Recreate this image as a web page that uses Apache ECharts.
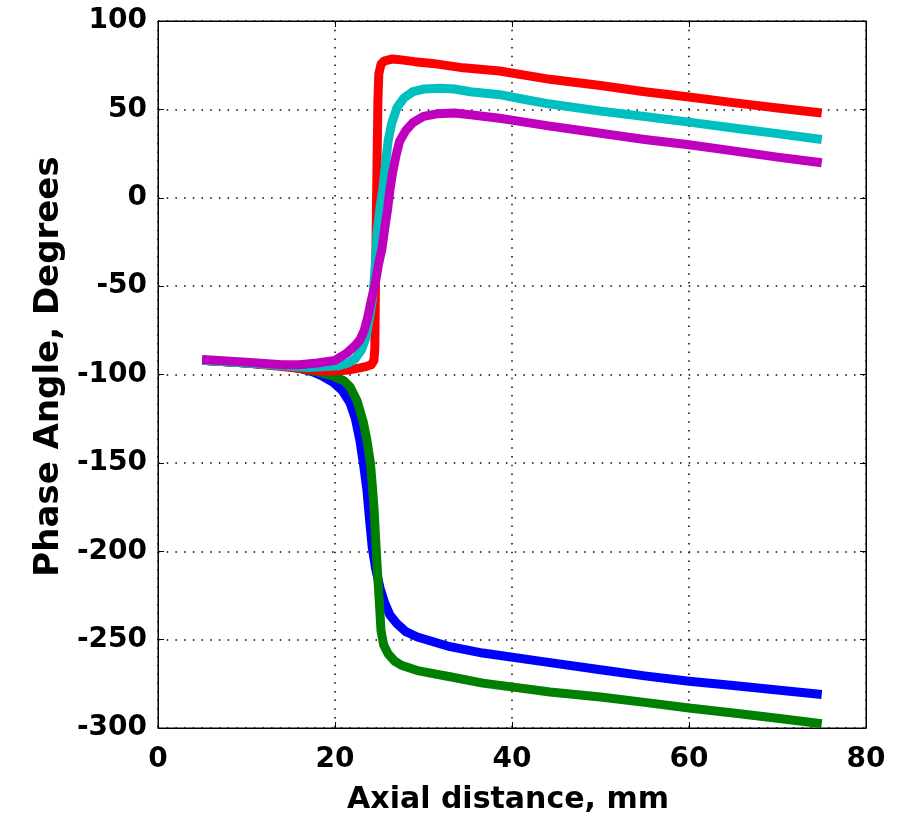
<!DOCTYPE html>
<html lang="en">
<head>
    <meta charset="UTF-8">
    <title>Phase Angle vs Axial distance</title>
    <script src="https://cdn.jsdelivr.net/npm/echarts@6/dist/echarts.min.js"></script>
    <style>
        html, body { margin: 0; padding: 0; background: #fff; }
    </style>
</head>
<body>
    <div id="phaseChart" style="width: 903px; height: 825px;"></div>
    <script>
        // x ticks / y ticks
        var xTicks = [0, 20, 40, 60, 80];
        var yTicks = [-300, -250, -200, -150, -100, -50, 0, 50, 100];

        // red curve
        var redX = [5, 10, 14, 17, 18.6, 20, 21.5, 22.5, 23.5, 24.1, 24.4, 24.5, 24.55, 24.65, 24.75, 24.85, 24.95, 25.2, 25.6, 26.5, 27.5, 29, 31, 34.5, 36.7, 38.6, 44.3, 50, 55, 60, 65, 70, 75];
        var redY = [-92, -93.5, -95.5, -97, -98, -98, -97.5, -96.5, -95.5, -94.5, -92, -85, -60, -20, 20, 55, 70, 75.5, 77.5, 78.5, 78, 77, 76, 73.5, 72.5, 71.7, 67, 63.5, 60, 57, 53.8, 50.8, 48];

        // cyan curve
        var cyanX = [5, 10, 14, 17, 19, 20.5, 21.5, 22.3, 23, 23.5, 23.9, 24.3, 24.6, 24.75, 25.1, 25.4, 25.6, 25.8, 26, 26.4, 27, 27.8, 28.8, 30, 31.9, 33.5, 35.3, 38.6, 41, 44.3, 50, 55, 60, 65, 70, 75];
        var cyanY = [-92, -93.5, -95, -96, -95.5, -95, -93.5, -91, -86, -79, -68, -55, -35, -20, -5, 5, 14, 23, 32, 42, 51, 56.5, 60, 61.5, 62, 61.5, 60, 58.3, 56, 53, 49, 46, 42.8, 39.5, 36.3, 33];

        // magenta curve
        var magentaX = [5, 10, 14, 16, 18, 20, 21.3, 22.2, 22.8, 23.3, 23.7, 24.1, 24.5, 24.9, 25.3, 25.6, 25.9, 26.2, 26.5, 26.9, 27.3, 28, 28.8, 30, 31.5, 33.5, 35.3, 38.6, 40.5, 44.3, 50, 55, 60, 65, 70, 75];
        var magentaY = [-91.5, -93, -94.5, -94.5, -93.5, -92, -88, -84, -80.5, -75, -67.5, -58, -50, -38, -29, -18, -8, 4, 14, 24, 32, 38, 42.5, 46, 47.5, 48, 47, 45, 43.5, 40.5, 36.5, 33, 30, 26.5, 23, 19.8];

        // blue curve
        var blueX = [5, 10, 14, 16, 17.5, 18.6, 19.8, 20.8, 21.7, 22.3, 22.8, 23.2, 23.6, 23.9, 24.2, 24.6, 25.1, 25.6, 26.2, 27, 28, 29.3, 33, 36.7, 44.3, 50, 55, 60, 65, 70, 75];
        var blueY = [-92, -93.5, -95, -96.5, -98.5, -101, -104.5, -109, -116, -125, -137, -150, -165, -182, -197.6, -210, -221, -229, -236, -241, -245.5, -248.5, -254, -257.6, -263, -267, -270.5, -273.5, -276, -278.5, -281];

        // green curve
        var greenX = [5, 10, 14, 16, 18, 19.8, 21, 21.7, 22.5, 23.2, 23.6, 24, 24.2, 24.4, 24.55, 24.7, 24.85, 25, 25.2, 25.5, 26, 26.7, 27.5, 29.3, 33, 36.7, 44.3, 50, 55, 60, 65, 70, 75];
        var greenY = [-92, -93.5, -95, -96.5, -98.5, -101, -103.5, -107, -115, -127, -137, -150, -162, -175, -189, -203, -216, -228, -245, -253, -258, -262, -264.5, -267.5, -271, -274.6, -279.6, -282.5, -285.5, -288.7, -291.5, -294.5, -297.6];

        function pairs(xs, ys) {
            return xs.map(function (x, i) { return [x, ys[i]]; });
        }

        var chart = echarts.init(document.getElementById('phaseChart'));

        var font = 'DejaVu Sans';
        var gridDots = { show: true, lineStyle: { color: '#000', width: 1.5, type: [1.5, 7.2] } };

        function line(name, color, xs, ys) {
            return {
                name: name,
                type: 'line',
                showSymbol: false,
                animation: false,
                lineStyle: { color: color, width: 9, cap: 'butt', join: 'round' },
                data: pairs(xs, ys)
            };
        }

        var option = {
            backgroundColor: '#fff',
            grid: {
                left: 158, right: 37, top: 21, bottom: 97,
                show: true, borderColor: '#000', borderWidth: 1
            },
            xAxis: [{
                type: 'value',
                min: xTicks[0], max: xTicks[xTicks.length - 1], interval: 20,
                name: 'Axial distance, mm',
                nameLocation: 'middle',
                nameGap: 57,
                nameTextStyle: { fontFamily: font, fontWeight: 'bold', fontSize: 30, color: '#000', padding: [0, 8, 0, 0] },
                axisLine: { onZero: false, lineStyle: { color: '#000', width: 1 } },
                axisTick: { inside: true, length: 6, lineStyle: { color: '#000' } },
                axisLabel: { fontFamily: font, fontWeight: 'bold', fontSize: 28, color: '#000', margin: 18 },
                splitLine: gridDots
            }, {
                type: 'value', position: 'top',
                min: xTicks[0], max: xTicks[xTicks.length - 1], interval: 20,
                axisLine: { onZero: false, lineStyle: { color: '#000', width: 1 } },
                axisTick: { inside: true, length: 6, lineStyle: { color: '#000' } },
                axisLabel: { show: false },
                splitLine: { show: false }
            }],
            yAxis: [{
                type: 'value',
                min: yTicks[0], max: yTicks[yTicks.length - 1], interval: 50,
                name: 'Phase Angle, Degrees',
                nameLocation: 'middle',
                nameGap: 85,
                nameTextStyle: { fontFamily: font, fontWeight: 'bold', fontSize: 34, color: '#000', padding: [0, 0, 0, 16] },
                axisLine: { show: true, onZero: false, lineStyle: { color: '#000', width: 1 } },
                axisTick: { show: true, inside: true, length: 6, lineStyle: { color: '#000' } },
                axisLabel: { fontFamily: font, fontWeight: 'bold', fontSize: 28, color: '#000', margin: 11 },
                splitLine: gridDots
            }, {
                type: 'value', position: 'right',
                min: yTicks[0], max: yTicks[yTicks.length - 1], interval: 50,
                axisLine: { show: true, onZero: false, lineStyle: { color: '#000', width: 1 } },
                axisTick: { show: true, inside: true, length: 6, lineStyle: { color: '#000' } },
                axisLabel: { show: false },
                splitLine: { show: false }
            }],
            series: [
                line('blue', '#0000ff', blueX, blueY),
                line('green', '#008000', greenX, greenY),
                line('red', '#ff0000', redX, redY),
                line('cyan', '#00bfbf', cyanX, cyanY),
                line('magenta', '#bf00bf', magentaX, magentaY)
            ]
        };

        chart.setOption(option);
    </script>
</body>
</html>
